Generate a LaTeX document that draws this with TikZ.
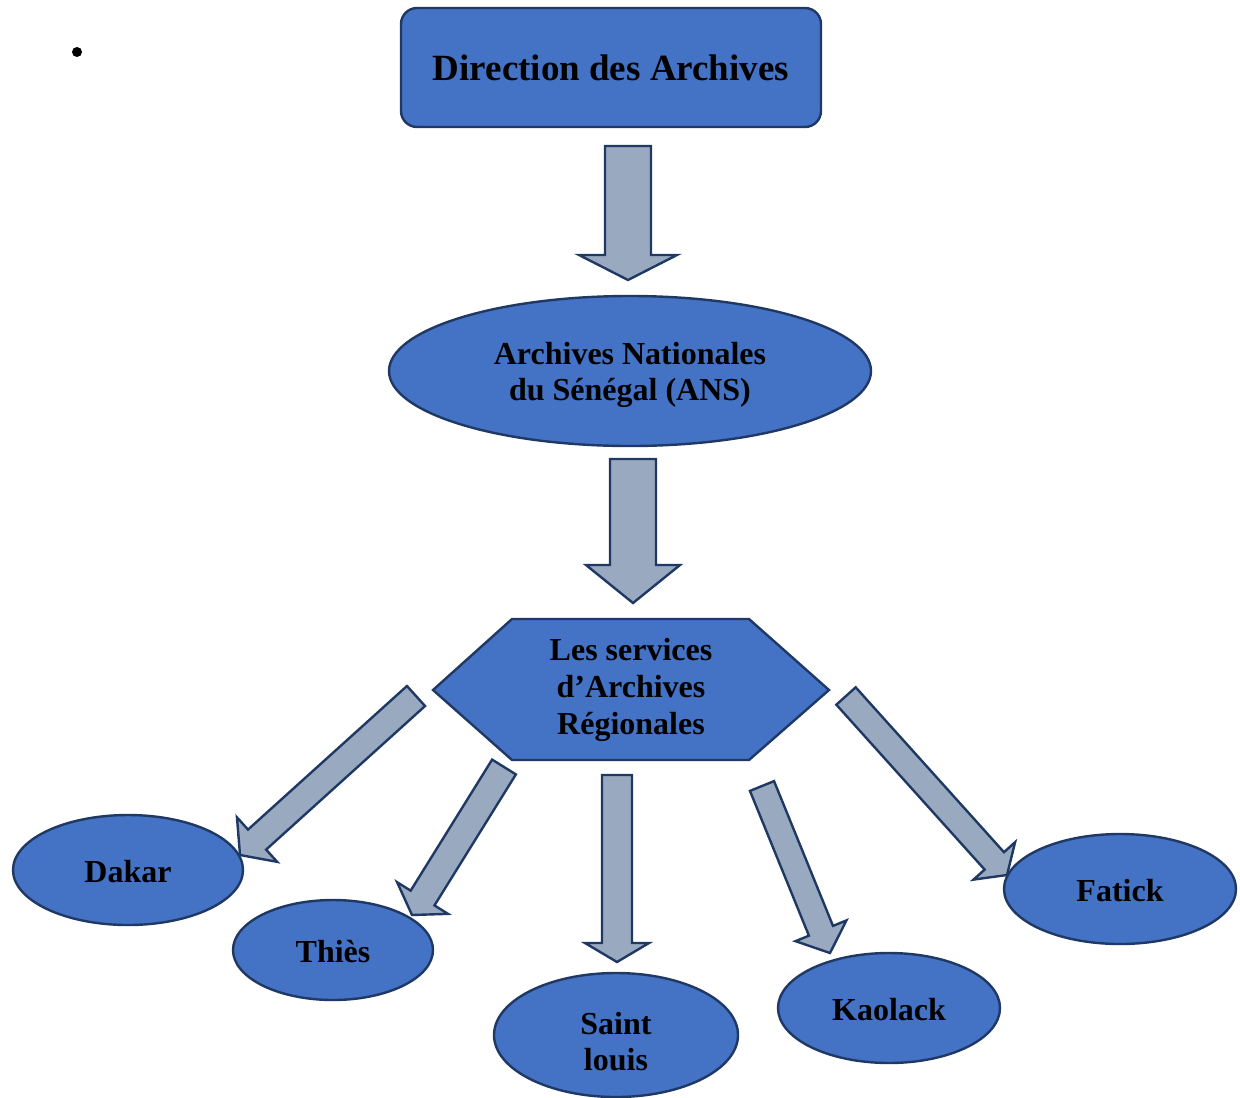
\documentclass[tikz,border=0pt]{standalone}
\usepackage{fontspec}
\setmainfont{Liberation Serif}
\usetikzlibrary{calc,shapes.geometric}

\definecolor{boxblue}{HTML}{4472C4}
\definecolor{edgenavy}{HTML}{1F3864}
\definecolor{arrowgrey}{HTML}{99AAC0}

\newcommand{\topgap}[1]{\rule{0pt}{#1}}

\tikzset{
  entity/.style={draw=edgenavy, line width=1.2pt, fill=boxblue, align=center,
    inner sep=0pt, font=\bfseries\fontsize{16}{18}\selectfont},
  city/.style={entity, ellipse},
  textdrop/.style={execute at begin node={\topgap{#1}}},
  blockarr/.style={draw=edgenavy, fill=arrowgrey, line width=1.2pt},
}

% block arrow: tail, tip, half shaft, half head, head length (in px)
\newcommand{\blockarrow}[5]{%
  \pgfmathsetlengthmacro\shafthw{#3*0.5pt}%
  \pgfmathsetlengthmacro\headhw{#4*0.5pt}%
  \pgfmathsetlengthmacro\headlen{#5*0.5pt}%
  \path ($(#2)!\headlen!(#1)$) coordinate (hb);
  \draw[blockarr] ($(#1)!\shafthw!90:(#2)$) -- ($(hb)!\shafthw!90:(#2)$)
    -- ($(hb)!\headhw!90:(#2)$) -- (#2) -- ($(hb)!\headhw!-90:(#2)$)
    -- ($(hb)!\shafthw!-90:(#2)$) -- ($(#1)!\shafthw!-90:(#2)$) -- cycle;
}

\begin{document}
\begin{tikzpicture}[x=0.5pt, y=-0.5pt]
\useasboundingbox (0,0) rectangle (1240,1097);

% bullet
\fill (77,52) circle (2.5pt);

% top of the chart
\node[entity, rounded corners=8pt, minimum width=210pt, minimum height=59.5pt,
  font=\bfseries\fontsize{18.5}{22}\selectfont] (dir) at (611,67.5) {Direction des Archives};
\node[city, minimum width=241pt, minimum height=75pt] (ans) at (630,371)
  {\topgap{15pt}Archives Nationales\\du Sénégal (ANS)};

% hexagon
\draw[entity] (433,690) -- (512,619) -- (749,619) -- (829,690) -- (749,760) -- (512,760) -- cycle;
\node[align=center, font=\bfseries\fontsize{16}{18.5}\selectfont] (ars) at (631,688)
  {\topgap{12.8pt}Les services\\d’Archives\\Régionales};

% regions
\node[city, textdrop=12.8pt, minimum width=115pt, minimum height=55pt] (dakar) at (128,870) {Dakar};
\node[city, textdrop=12.8pt, minimum width=100pt, minimum height=50pt] (thies) at (333,950) {Thiès};
\node[city, minimum width=122pt, minimum height=62pt] (stlouis) at (616,1035) {\topgap{18pt}Saint\\louis};
\node[city, textdrop=12.8pt, minimum width=111pt, minimum height=55pt] (kaolack) at (889,1008) {Kaolack};
\node[city, textdrop=12.8pt, minimum width=116pt, minimum height=55pt] (fatick) at (1120,889) {Fatick};

% arrow ends
\coordinate (s1) at (628,146);  \coordinate (e1) at (628,280);
\coordinate (s2) at (633,459);  \coordinate (e2) at (633,603);
\coordinate (s3) at (416,696);  \coordinate (e3) at (240,855);
\coordinate (s4) at (504,767);  \coordinate (e4) at (412,915);
\coordinate (s5) at (617,775);  \coordinate (e5) at (617,962);
\coordinate (s6) at (762,786);  \coordinate (e6) at (830,953);
\coordinate (s7) at (846,696);  \coordinate (e7) at (1007,875);

\blockarrow{s1}{e1}{23}{49}{25}
\blockarrow{s2}{e2}{23}{47}{38}
\blockarrow{s3}{e3}{13.5}{30}{23}
\blockarrow{s4}{e4}{14}{30}{20}
\blockarrow{s5}{e5}{15}{32}{19}
\blockarrow{s6}{e6}{13}{27.5}{24}
\blockarrow{s7}{e7}{13}{28}{19}
\end{tikzpicture}
\end{document}
